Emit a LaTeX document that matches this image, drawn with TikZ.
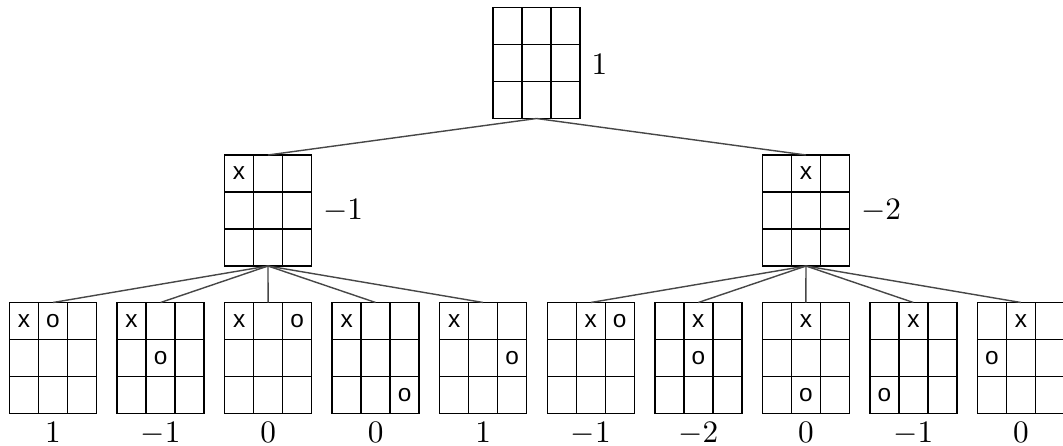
\documentclass[tikz,border=0pt]{standalone}
\usepackage{fontspec}
\newfontfamily\markfont{Liberation Sans}
\usetikzlibrary{calc}
\newcommand\putmark[4]{\node[mk] (#1m#2#3) at ($(#1.north west)+(#2*29+14.5,#3*37+18.5)$) {#4};}
\begin{document}
\begin{tikzpicture}[x=0.32pt,y=-0.32pt,
  board/.style={draw=black, line width=0.45pt, minimum width=27.84pt, minimum height=35.52pt,
    inner sep=0pt, outer sep=0pt,
    path picture={
      \foreach \f in {1,2}{
        \draw[line width=0.45pt] ($(path picture bounding box.north west)!\f/3!(path picture bounding box.north east)$) --
              ($(path picture bounding box.south west)!\f/3!(path picture bounding box.south east)$);
        \draw[line width=0.45pt] ($(path picture bounding box.north west)!\f/3!(path picture bounding box.south west)$) --
              ($(path picture bounding box.north east)!\f/3!(path picture bounding box.south east)$);
      }}},
  mk/.style={inner sep=0pt, font=\fontsize{7.8}{9}\markfont},
  val/.style={inner sep=0pt, font=\fontsize{10}{12}\selectfont},
  edge/.style={draw=black!72, line width=0.45pt}
]
\useasboundingbox (0,0) rectangle (1063,446);
% root
\node[board] (r) at (536.5,63) {};
\node[val, anchor=west] (rv) at ($(r.east)+(11,1)$) {$1$};
% level 1
\node[board] (a) at (268,210.5) {};
\node[board] (b) at (806,210.5) {};
\putmark{a}{0}{0}{x}
\putmark{b}{1}{0}{x}
\node[val, anchor=west] (av) at ($(a.east)+(11,0)$) {$-1$};
\node[val, anchor=west] (bv) at ($(b.east)+(11,0)$) {$-2$};
% leaves
\foreach \i in {0,...,9}{
  \node[board] (c\i) at (53+107.55*\i,358) {};
}
\putmark{c0}{0}{0}{x}\putmark{c0}{1}{0}{o}
\putmark{c1}{0}{0}{x}\putmark{c1}{1}{1}{o}
\putmark{c2}{0}{0}{x}\putmark{c2}{2}{0}{o}
\putmark{c3}{0}{0}{x}\putmark{c3}{2}{2}{o}
\putmark{c4}{0}{0}{x}\putmark{c4}{2}{1}{o}
\putmark{c5}{1}{0}{x}\putmark{c5}{2}{0}{o}
\putmark{c6}{1}{0}{x}\putmark{c6}{1}{1}{o}
\putmark{c7}{1}{0}{x}\putmark{c7}{1}{2}{o}
\putmark{c8}{1}{0}{x}\putmark{c8}{0}{2}{o}
\putmark{c9}{1}{0}{x}\putmark{c9}{0}{1}{o}
\foreach \i/\v in {0/1,1/-1,2/0,3/0,4/1,5/-1,6/-2,7/0,8/-1,9/0}{
  \node[val, anchor=base] (c\i v) at ($(c\i.south)+(0,29)$) {$\v$};
}
% edges
\draw[edge] (r.south) -- (a.north);
\draw[edge] (r.south) -- (b.north);
\foreach \i in {0,...,4}{ \draw[edge] (a.south) -- (c\i.north); }
\foreach \i in {5,...,9}{ \draw[edge] (b.south) -- (c\i.north); }
\end{tikzpicture}
\end{document}
